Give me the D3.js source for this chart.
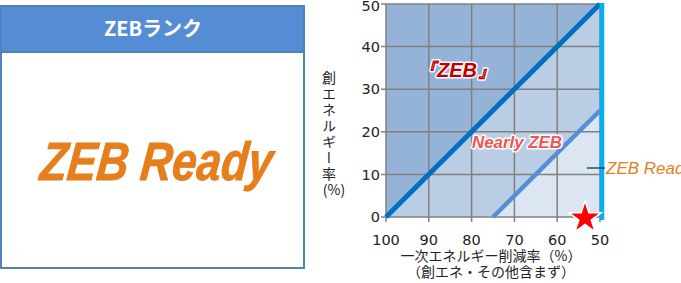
<!DOCTYPE html>
<html>
<head>
<meta charset="utf-8">
<script src="https://cdn.jsdelivr.net/npm/d3@7"></script>
<style>
  body { margin: 0; background: #fff; }
  svg { display: block; }
</style>
</head>
<body>
<script>
// data
const xTicks = [100, 90, 80, 70, 60, 50];
const yTicks = [0, 10, 20, 30, 40, 50];
const zebLine = [[100, 0], [50, 50]];
const nearlyLine = [[75, 0], [50, 25]];
const zebArea = [[100, 0], [100, 50], [50, 50]];
const nearlyArea = [[100, 0], [50, 50], [50, 25], [75, 0]];
const readyArea = [[75, 0], [50, 25], [50, 0]];
const starPoint = [53.5, 0];
const readyMark = 11.5;
const yTitle = "創エネルギー率";

const width = 681, height = 283;
const svg = d3.select("body").append("svg")
  .attr("width", width).attr("height", height);

// left box : ZEB rank
const box = svg.append("g");
box.append("rect").attr("x", 1).attr("y", 6).attr("width", 303).attr("height", 262)
  .attr("fill", "#fff").attr("stroke", "#4f81bd").attr("stroke-width", 2);
box.append("rect").attr("x", 1).attr("y", 6).attr("width", 303).attr("height", 46)
  .attr("fill", "#548dd4").attr("stroke", "#4f81bd").attr("stroke-width", 2);
box.append("text").attr("x", 153).attr("y", 36)
  .attr("text-anchor", "middle").attr("fill", "#fff")
  .style("font-family", "'Noto Sans CJK JP'").style("font-weight", "bold").style("font-size", "20px")
  .text("ZEBランク");
box.append("text")
  .attr("transform", "translate(155,180) skewX(-6)")
  .attr("text-anchor", "middle").attr("fill", "#e67e1c")
  .attr("stroke", "#e67e1c").attr("stroke-width", 0.8)
  .attr("textLength", 232).attr("lengthAdjust", "spacingAndGlyphs")
  .style("font-family", "'Liberation Sans'").style("font-weight", "bold")
  .style("font-style", "italic").style("font-size", "54px")
  .text("ZEB Ready");

// chart
const x = d3.scaleLinear().domain([100, 50]).range([386, 600]);
const y = d3.scaleLinear().domain([0, 50]).range([217, 4]);
const line = d3.line().x(d => x(d[0])).y(d => y(d[1]));
const area = pts => line(pts) + "Z";

const chart = svg.append("g");
chart.append("path").attr("d", area(zebArea)).attr("fill", "#95b3d7");
chart.append("path").attr("d", area(nearlyArea)).attr("fill", "#b9cde5");
chart.append("path").attr("d", area(readyArea)).attr("fill", "#dce6f2");

// grid
const gridColor = "#808080";
chart.append("g").selectAll("line").data(xTicks).join("line")
  .attr("x1", d => x(d)).attr("x2", d => x(d))
  .attr("y1", y(50)).attr("y2", y(0) + 5)
  .attr("stroke", gridColor).attr("stroke-width", 1.5);
chart.append("g").selectAll("line").data(yTicks).join("line")
  .attr("x1", x(100) - 5).attr("x2", x(50))
  .attr("y1", d => y(d)).attr("y2", d => y(d))
  .attr("stroke", gridColor).attr("stroke-width", 1.5);

// tick labels
chart.append("g").selectAll("text").data(yTicks).join("text")
  .attr("x", x(100) - 6).attr("y", d => Math.max(y(d), 6)).attr("dy", "0.36em")
  .attr("text-anchor", "end").attr("fill", "#222")
  .style("font-family", "'DejaVu Sans'").style("font-size", "14.5px")
  .text(d => d);
chart.append("g").selectAll("text").data(xTicks).join("text")
  .attr("x", d => x(d)).attr("y", 245)
  .attr("text-anchor", "middle").attr("fill", "#222")
  .style("font-family", "'DejaVu Sans'").style("font-size", "14.5px")
  .text(d => d);

// boundary lines
chart.append("path").attr("d", line(nearlyLine))
  .attr("stroke", "#558ed5").attr("stroke-width", 4.5).attr("fill", "none");
chart.append("path").attr("d", line(zebLine))
  .attr("stroke", "#0070c0").attr("stroke-width", 5).attr("fill", "none");
chart.append("line")
  .attr("x1", x(50) + 2).attr("x2", x(50) + 2)
  .attr("y1", y(50) - 1).attr("y2", y(0) + 3)
  .attr("stroke", "#00b0f0").attr("stroke-width", 4.5);

// region labels
const outlined = sel => sel
  .style("paint-order", "stroke").attr("stroke", "#fff").attr("stroke-width", 3)
  .attr("stroke-linejoin", "round")
  .style("font-family", "'Liberation Sans'").style("font-weight", "bold").style("font-style", "italic");
chart.append("text").attr("x", x(83.4)).attr("y", y(34.5)).attr("dy", "0.35em")
  .attr("text-anchor", "middle").attr("fill", "#c00000")
  .call(outlined).style("font-size", "20px")
  .text("『ZEB』");
chart.append("text").attr("x", x(69.4)).attr("y", y(17.6)).attr("dy", "0.35em")
  .attr("text-anchor", "middle").attr("fill", "#f05555")
  .attr("textLength", 90).attr("lengthAdjust", "spacingAndGlyphs")
  .call(outlined).style("font-size", "16px")
  .text("Nearly ZEB");

// ZEB Ready leader
chart.append("line")
  .attr("x1", x(50) - 13).attr("x2", x(50) + 5)
  .attr("y1", y(readyMark)).attr("y2", y(readyMark))
  .attr("stroke", "#1f4e79").attr("stroke-width", 1.5);
chart.append("text").attr("x", x(50) + 6).attr("y", y(readyMark)).attr("dy", "0.38em")
  .attr("fill", "#e67e1c")
  .style("font-family", "'Liberation Sans'").style("font-style", "italic").style("font-size", "17px")
  .text("ZEB Ready");

// star
chart.append("path")
  .attr("d", d3.symbol(d3.symbolStar, 330)())
  .attr("transform", `translate(${x(starPoint[0])},${y(starPoint[1]) + 1})`)
  .attr("fill", "#ff0000").attr("stroke", "#fff").attr("stroke-width", 1.5);

// axis titles
const jp = "'Noto Sans CJK JP'";
chart.append("text").attr("x", 329).attr("y", 71)
  .attr("fill", "#222")
  .style("writing-mode", "vertical-rl").style("text-orientation", "upright")
  .style("letter-spacing", "2px")
  .style("font-family", jp).style("font-size", "14px")
  .text(yTitle);
chart.append("text").attr("x", 334).attr("y", 190).attr("dy", "0.35em")
  .attr("text-anchor", "middle").attr("fill", "#222")
  .style("font-family", jp).style("font-size", "14px")
  .text("(%)");
chart.append("text").attr("x", 491).attr("y", 256).attr("dy", "0.35em")
  .attr("text-anchor", "middle").attr("fill", "#222")
  .style("font-family", jp).style("font-size", "14px")
  .text("一次エネルギー削減率（%）");
chart.append("text").attr("x", 491).attr("y", 272).attr("dy", "0.35em")
  .attr("text-anchor", "middle").attr("fill", "#222")
  .style("font-family", jp).style("font-size", "14px")
  .text("（創エネ・その他含まず）");
</script>
</body>
</html>
